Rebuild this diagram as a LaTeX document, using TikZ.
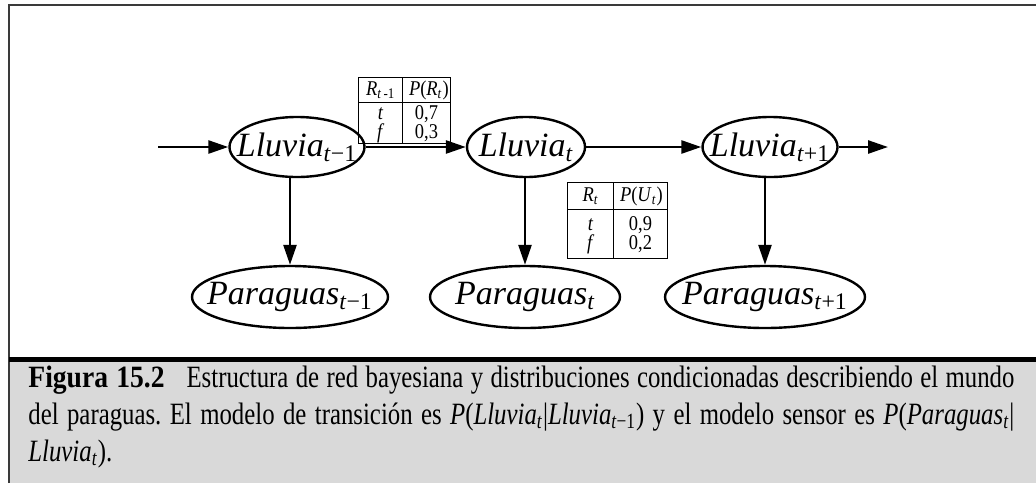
\documentclass[tikz,border=0pt]{standalone}
\usepackage{fontspec}
\setmainfont{Liberation Serif}
\newfontfamily\cptfont[FakeStretch=0.88]{Liberation Serif}
\newfontfamily\capfont[FakeStretch=0.8]{Liberation Serif}
\newfontfamily\capbold[FakeStretch=0.89]{Liberation Serif Bold}
\usepackage{array}
\usetikzlibrary{positioning, shapes.geometric, arrows.meta}
\usepackage{xcolor}
\definecolor{capgray}{HTML}{D9D9D9}
\definecolor{framegray}{HTML}{3A3A3A}
\newcolumntype{C}[1]{>{\centering\arraybackslash}p{#1}}

\begin{document}
\begin{tikzpicture}[x=0.5pt, y=-0.5pt,
    var/.style={draw, ellipse, line width=1.2pt, inner sep=0pt, minimum height=30pt},
    vartext/.style={inner sep=0pt, font=\fontsize{17}{20}\selectfont\itshape},
    link/.style={-{Triangle[length=10pt,width=6.5pt]}, line width=1.3pt},
    cpt/.style={inner sep=0pt, font=\cptfont\fontsize{10.5}{10}\selectfont},
    captext/.style={inner sep=0pt, anchor=base west, font=\capfont\fontsize{15.5}{18}\selectfont\frenchspacing}]
  \useasboundingbox (0,0) rectangle (1036,483);
  % frame and caption band
  \fill[capgray] (9,359) rectangle (1036,483);
  \draw[framegray, line width=1pt] (9,483) -- (9,5) -- (1036,5);
  \draw[line width=2.5pt] (9,359) -- (1036,359);

  % state variables
  \node[var, minimum width=67.5pt, label={[vartext]center:Lluvia\textsubscript{t\textup{−1}}}] (l1) at (297,147) {};
  \node[var, minimum width=59pt, label={[vartext]center:Lluvia\textsubscript{t}}] (l2) at (526,147) {};
  \node[var, minimum width=67.5pt, label={[vartext]center:Lluvia\textsubscript{t\textup{+1}}}] (l3) at (770,147) {};
  % evidence variables
  \node[var, minimum width=98pt, minimum height=31pt, label={[vartext]center:Paraguas\textsubscript{t\textup{−1}}}] (p1) at (290,297) {};
  \node[var, minimum width=95pt, minimum height=31pt, label={[vartext]center:Paraguas\textsubscript{t}}] (p2) at (525,297) {};
  \node[var, minimum width=100pt, minimum height=31pt, label={[vartext]center:Paraguas\textsubscript{t\textup{+1}}}] (p3) at (765,297) {};

  \coordinate (in) at (158,147);
  \coordinate (out) at (888,147);
  \draw[link] (in) -- (l1);
  \draw[link] (l1) -- (l2);
  \draw[link] (l2) -- (l3);
  \draw[link] (l3) -- (out);
  \foreach \a/\b in {l1/p1, l2/p2, l3/p3}
    \draw[link] (\b |- \a.south) -- (\b.north);

  % conditional probability tables
  \node[cpt, anchor=north west] (cptr) at (358,77) {\renewcommand\arraystretch{0.8}\setlength\tabcolsep{3pt}%
    \begin{tabular}{|C{15.5pt}|C{17.5pt}|}\hline
    \rule[-3.5pt]{0pt}{12pt}\textit{R}\textsubscript{\textit{t}\,-1} & \textit{P}(\textit{R}\textsubscript{\textit{t}})\\\hline
    \rule{0pt}{8pt}\textit{t} & 0,7\\
    \rule[-2pt]{0pt}{2pt}\textit{f} & 0,3\\\hline
    \end{tabular}};
  \node[cpt, anchor=north west] (cptu) at (567,182) {\renewcommand\arraystretch{0.8}\setlength\tabcolsep{3pt}%
    \begin{tabular}{|C{16.5pt}|C{20.5pt}|}\hline
    \rule[-4pt]{0pt}{13pt}\textit{R}\textsubscript{\textit{t}} & \textit{P}(\textit{U}\textsubscript{\textit{t}})\\\hline
    \rule{0pt}{10pt}\textit{t} & 0,9\\
    \rule[-4pt]{0pt}{4pt}\textit{f} & 0,2\\\hline
    \end{tabular}};

  % caption
  \node[captext] (cap1) at (28,387)
    {\makebox[493pt][s]{{\capbold Figura 15.2}\hspace{11pt}Estructura de red bayesiana y distribuciones condicionadas describiendo el mundo}};
  \node[captext] (cap2) at (28,424)
    {\makebox[493pt][s]{del paraguas. El modelo de transición es \textit{P}(\textit{Lluvia}\textsubscript{\textit{t}}|\textit{Lluvia}\textsubscript{\textit{t}−1}) y el modelo sensor es \textit{P}(\textit{Paraguas}\textsubscript{\textit{t}}|}};
  \node[captext] (cap3) at (28,461)
    {\textit{Lluvia}\textsubscript{\textit{t}}).};
\end{tikzpicture}
\end{document}
